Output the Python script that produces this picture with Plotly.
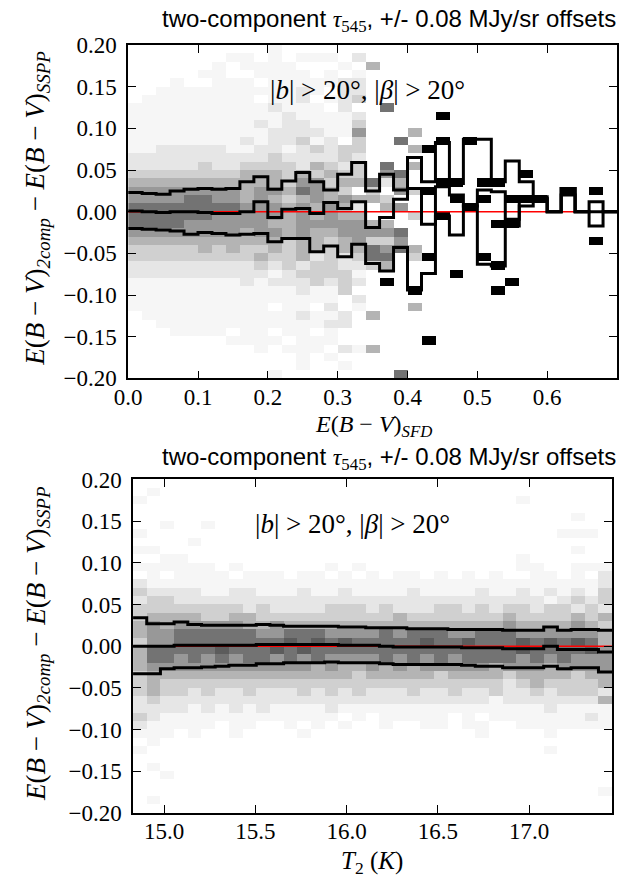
import plotly.graph_objects as go

W, H = 619, 888

# ---------------- data: top panel (E(B-V)_SFD bins of 0.02, residual bins of 0.01) ----------------
SFD_BIN0, SFD_BINW, N_X = 0.0, 0.02, 35
RES_TOP, RES_BINW, N_Y = 0.20, 0.01, 40

# grey level 0 (white) .. 9 (black) per cell, rows from +0.20 (top) to -0.20 (bottom)
TOP_LEFT = [  # columns 0-12
    "0000000000100", "0000000110101", "0000001011110", "0000011001111", "0001001110111",
    "0011111111112", "0111111110112", "1111111111211", "1111111111121", "1111111112122",
    "1111111111222", "1111111121223", "1122222112212", "2222222222322", "2222232233332",
    "3333333344434", "4444444444435", "5555555545546", "5555665545434", "6666666655545",
    "6666665555545", "6666555555445", "5555555545545", "4444444444434", "3333343433434",
    "3333333334334", "2222222223232", "2222222222123", "1111111121222", "1111111111112",
    "1111111111111", "1111111111011", "0111111111112", "0011111111111", "0001111011011",
    "0000000111101", "0000000001011", "0000000000001", "0000000000001", "0000000000100",
]
TOP_MID = [  # columns 13-16
    "0000", "1102", "0010", "0101", "1122", "1022", "0123", "1020", "1112", "1113",
    "2115", "1203", "3233", "2232", "4323", "3433", "5344", "5430", "5454", "4542",
    "4544", "5555", "4455", "4345", "4344", "2323", "3322", "3331", "3232", "1130",
    "1102", "0201", "1120", "1220", "0100", "1100", "1021", "0100", "0010", "0000",
]
TOP_RIGHT = [  # columns 17-34
    "000000 000000 000000", "000000 000000 000000", "400000 000000 000000", "000000 000000 000000",
    "000000 000000 000000", "000000 000000 000000", "000000 000000 000000", "060000 000000 000000",
    "000009 000000 000000", "000000 000000 000000", "000400 000000 000000", "006009 090000 000000",
    "000490 000000 000000", "000000 000000 000000", "060400 000000 000000", "056000 000009 000000",
    "624009 909900 000000", "305390 000000 009090", "430000 909099 900000", "045000 090000 000000",
    "000309 000000 000000", "440000 000990 000000", "556000 000000 000000", "335000 000000 000090",
    "656400 000000 000000", "660390 009000 000000", "340000 000900 000000", "000000 900000 000000",
    "090000 000090 000000", "000900 000900 000000", "000000 000000 000000", "000400 000000 000000",
    "400000 000000 000000", "000000 000000 000000", "000000 000000 000000", "000090 000000 000000",
    "400000 000000 000000", "000000 000000 000000", "000000 000000 000000", "006000 000000 000000",
]

# step curves (per SFD bin): upper spread, median, lower spread
TOP_UPPER = [0.023, 0.022, 0.021, 0.025, 0.027, 0.028, 0.027, 0.028, 0.036, 0.042,
             0.027, 0.037, 0.047, 0.036, 0.026, 0.045, 0.059, 0.025, 0.045, 0.026,
             0.065, 0.036, 0.083, 0.034, 0.087, 0.087, 0.036, 0.061, 0.036, 0.018,
             0.000, 0.028, 0.000, 0.012, 0.000]
TOP_MEDIAN = [0.001, 0.000, -0.001, 0.000, 0.000, -0.001, -0.002, -0.002, 0.000, 0.012,
              -0.007, 0.003, 0.004, -0.002, 0.011, 0.004, 0.012, -0.019, -0.007, 0.015,
              0.028, -0.015, 0.030, 0.020, 0.007, 0.026, 0.024, -0.009, 0.015, 0.015,
              0.000, 0.020, 0.000, 0.000, 0.000]
TOP_LOWER = [-0.020, -0.021, -0.022, -0.023, -0.027, -0.025, -0.026, -0.028, -0.027, -0.026,
             -0.036, -0.032, -0.032, -0.048, -0.041, -0.054, -0.039, -0.062, -0.071, -0.043,
             -0.094, -0.074, -0.005, -0.028, 0.007, -0.063, -0.065, -0.017, 0.007, 0.016,
             0.000, 0.028, 0.000, -0.017, 0.000]

# ---------------- data: bottom panel (T2 bins) ----------------
T2_BIN0, T2_BINW = 14.83, 0.075
BOT_GRID = [
    "00000 00000 00000 00000 00000 00000 00000",
    "01000 00000 00000 00000 00000 00000 00000",
    "10000 00000 00000 00000 00000 00010 00000",
    "00000 00000 00000 00000 00000 00000 00000",
    "00000 00000 00000 00000 00000 00000 00100",
    "00100 10000 00000 00000 00000 00000 00000",
    "10000 00000 00000 00000 00000 00000 01110",
    "00001 00000 00000 00000 00000 00000 00000",
    "11000 00000 00000 00000 00000 00000 00100",
    "00110 00000 00000 00000 00000 00010 00000",
    "11111 10100 00001 01000 00000 00011 00111",
    "01011 11011 10110 10101 10101 01001 10102",
    "21111 11111 11111 11111 11111 11111 11112",
    "32222 11221 11211 21111 21111 21121 21213",
    "23322 22222 22222 22222 22222 22222 12323",
    "33333 33323 22223 33232 22332 32332 33232",
    "34444 33443 33333 33334 33333 33433 33434",
    "45455 55544 54444 44444 44444 44544 44543",
    "45566 66665 56665 55565 66655 66655 55554",
    "35566 66666 67676 76666 67667 66676 76764",
    "46666 67666 76766 66666 66666 66676 66675",
    "46656 56566 56565 55565 65656 66656 56555",
    "45555 55555 55545 44545 45555 54555 45555",
    "34444 44444 44444 43444 44344 44344 44344",
    "34333 33333 33333 33333 33333 33234 33334",
    "34332 32232 22323 23222 32232 23223 23332",
    "23222 22222 22222 22222 22222 21222 22224",
    "22221 21212 11112 11111 11111 11111 21111",
    "32111 11111 11111 01011 11101 01111 11121",
    "21111 10110 01010 10010 01101 10011 11111",
    "11101 00100 00100 00000 00000 10000 10000",
    "01000 00000 00000 00000 00000 00000 00000",
    "10000 00000 00000 00000 00000 00000 10000",
    "00000 00000 00000 00000 00000 00000 00000",
    "01000 00000 00000 00000 00000 00000 00000",
    "00100 00000 00000 00000 00000 00000 00000",
    "00000 00000 00000 00000 00000 00000 00000",
    "00000 00000 00000 00000 00000 00000 00001",
    "01000 00000 00000 00000 00000 00000 00000",
    "00000 00000 00000 00000 00000 00000 00000",
]
BOT_UPPER = [0.034, 0.027, 0.027, 0.029, 0.026, 0.025, 0.025, 0.025, 0.025, 0.026,
             0.025, 0.024, 0.024, 0.024, 0.024, 0.023, 0.023, 0.022, 0.022, 0.022,
             0.021, 0.021, 0.021, 0.020, 0.020, 0.020, 0.020, 0.019, 0.019, 0.019,
             0.023, 0.019, 0.020, 0.020, 0.019]
BOT_MEDIAN = [0.000, 0.000, 0.000, 0.001, 0.001, 0.001, 0.001, 0.001, 0.001, 0.002,
              0.002, 0.002, 0.002, 0.002, 0.002, 0.001, 0.001, 0.001, 0.000, -0.001,
              -0.001, -0.001, -0.001, -0.001, -0.002, -0.002, -0.002, -0.003, -0.003, -0.003,
              0.000, -0.004, -0.004, -0.004, -0.007]
BOT_LOWER = [-0.033, -0.033, -0.027, -0.026, -0.026, -0.025, -0.024, -0.023, -0.023, -0.021,
             -0.021, -0.020, -0.020, -0.020, -0.019, -0.020, -0.020, -0.020, -0.021, -0.022,
             -0.022, -0.022, -0.022, -0.022, -0.023, -0.024, -0.024, -0.026, -0.026, -0.026,
             -0.024, -0.027, -0.026, -0.026, -0.031]

SFD_TICKS = [0.0, 0.1, 0.2, 0.3, 0.4, 0.5, 0.6]
T2_TICKS = [15.0, 15.5, 16.0, 16.5, 17.0]
RES_TICKS = [-0.20, -0.15, -0.10, -0.05, 0.0, 0.05, 0.10, 0.15, 0.20]

# ---------------- helpers ----------------
def to_grid(rows):
    out = []
    for s in rows:
        s = s.replace(" ", "")
        assert len(s) == N_X, (s, len(s))
        out.append([int(c) for c in s])
    return out

top_rows = []
for a, b, c in zip(TOP_LEFT, TOP_MID, TOP_RIGHT):
    top_rows.append(a + b + c)
top_z = to_grid(top_rows)
bot_z = to_grid(BOT_GRID)

y_centers = [RES_TOP - RES_BINW * (r + 0.5) for r in range(N_Y)]
sfd_edges = [SFD_BIN0 + SFD_BINW * i for i in range(N_X + 1)]
t2_edges = [T2_BIN0 + T2_BINW * i for i in range(N_X + 1)]
sfd_centers = [(sfd_edges[i] + sfd_edges[i + 1]) / 2 for i in range(N_X)]
t2_centers = [(t2_edges[i] + t2_edges[i + 1]) / 2 for i in range(N_X)]

GRAYS = [255, 246, 230, 208, 180, 152, 115, 92, 60, 0]
cscale = [[k / 9, f"rgb({g},{g},{g})"] for k, g in enumerate(GRAYS)]

fig = go.Figure()

def add_panel(xc, edges, z, up, med, lo, xa, ya):
    fig.add_trace(go.Heatmap(x=xc, y=y_centers, z=z, zmin=0, zmax=9, colorscale=cscale,
                             showscale=False, xaxis=xa, yaxis=ya, hoverinfo="skip"))
    fig.add_trace(go.Scatter(x=[edges[0], edges[-1]], y=[0, 0], mode="lines",
                             line=dict(color="red", width=1.5), xaxis=xa, yaxis=ya,
                             showlegend=False, hoverinfo="skip"))
    for vals in (up, med, lo):
        fig.add_trace(go.Scatter(x=edges, y=list(vals) + [vals[-1]], mode="lines",
                                 line=dict(color="black", width=3, shape="hv"),
                                 xaxis=xa, yaxis=ya, showlegend=False, hoverinfo="skip"))

add_panel(sfd_centers, sfd_edges, top_z, TOP_UPPER, TOP_MEDIAN, TOP_LOWER, "x", "y")
add_panel(t2_centers, t2_edges, bot_z, BOT_UPPER, BOT_MEDIAN, BOT_LOWER, "x2", "y2")

SERIF = "Liberation Serif, Times New Roman, serif"
SANS = "Liberation Sans, Arial, sans-serif"
tickfont = dict(family=SERIF, size=23, color="black")
common = dict(showline=True, linecolor="black", linewidth=1.5, mirror="ticks", ticks="inside",
              ticklen=8, tickwidth=1, tickcolor="black", showgrid=False, zeroline=False,
              tickfont=tickfont)

def px_x(p):
    return p / W

def px_y(p):
    return 1 - p / H

fig.update_layout(
    width=W, height=H, margin=dict(l=0, r=0, t=0, b=0),
    font=dict(family=SERIF, size=23, color="black"),
    paper_bgcolor="white", plot_bgcolor="white", showlegend=False,
    xaxis=dict(domain=[px_x(117), px_x(618)], range=[sfd_edges[0], sfd_edges[-1]],
               tickvals=SFD_TICKS, tickformat=".1f", anchor="y", ticklabelstandoff=-3, **common),
    yaxis=dict(domain=[px_y(377), px_y(34)], range=[-0.2, 0.2], tickvals=RES_TICKS,
               tickformat=".2f", anchor="x", ticklabelstandoff=5, **common),
    xaxis2=dict(domain=[px_x(122), px_x(613)], range=[t2_edges[0], t2_edges[-1]],
                tickvals=T2_TICKS, tickformat=".1f", anchor="y2", ticklabelstandoff=-3, **common),
    yaxis2=dict(domain=[px_y(824), px_y(481)], range=[-0.2, 0.2], tickvals=RES_TICKS,
                tickformat=".2f", anchor="x2", ticklabelstandoff=5, **common),
)

TITLE = ("two-component <span style='font-family:Liberation Serif'><i>τ</i><sub>545</sub></span>"
         ", +/- 0.08 MJy/sr offsets")
YLAB = ("<i>E</i>(<i>B</i> − <i>V</i>)<sub><i>2comp</i></sub> − "
        "<i>E</i>(<i>B</i> − <i>V</i>)<sub><i>SSPP</i></sub>")
SEL = "|<i>b</i>| &gt; 20°, |<i>β</i>| &gt; 20°"

ann = [
    dict(x=px_x(384), y=px_y(27), yanchor="bottom", text=TITLE, font=dict(family=SANS, size=24)),
    dict(x=px_x(384), y=px_y(477), yanchor="bottom", text=TITLE, font=dict(family=SANS, size=24)),
    dict(x=px_x(362), y=px_y(80), text=SEL, font=dict(family=SERIF, size=27)),
    dict(x=px_x(347), y=px_y(527), text=SEL, font=dict(family=SERIF, size=27)),
    dict(x=px_x(24), y=px_y(202), text=YLAB, textangle=-90, font=dict(family=SERIF, size=27)),
    dict(x=px_x(24), y=px_y(650), text=YLAB, textangle=-90, font=dict(family=SERIF, size=27)),
    dict(x=px_x(368), y=px_y(426), text="<i>E</i>(<i>B</i> − <i>V</i>)<sub><i>SFD</i></sub>",
         font=dict(family=SERIF, size=24)),
    dict(x=px_x(367), y=px_y(875), text="<i>T</i><sub>2</sub> (<i>K</i>)",
         font=dict(family=SERIF, size=25)),
]
for a in ann:
    a.setdefault("yanchor", "middle")
    a.update(xref="paper", yref="paper", showarrow=False, xanchor="center")
    a["font"]["color"] = "black"
fig.update_layout(annotations=ann)

fig.write_html("out.html")
